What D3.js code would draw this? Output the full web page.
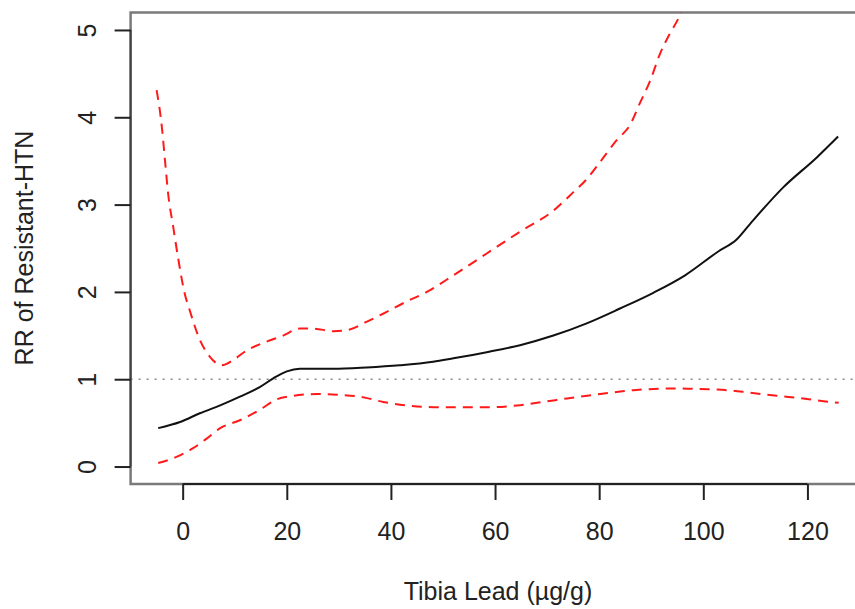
<!DOCTYPE html>
<html>
<head>
<meta charset="utf-8">
<script src="https://cdn.jsdelivr.net/npm/d3@7"></script>
<style>
  body { margin: 0; background: #fff; }
  text { font-family: "Liberation Sans", Arial, sans-serif; }
</style>
</head>
<body>
<div id="chart"></div>
<script>
// estimated RR curve (solid black)
const estX = [-4.7, -0.5, 3.3, 7.2, 11, 14.8, 17.4, 20, 22.5, 28.9, 35.3, 41.7, 48.1, 52, 58.4, 64.8, 71.2, 77.6, 84, 90.4, 96.5, 102.8, 106.4, 109, 115.4, 121.8, 125.9];
const estY = [0.44, 0.51, 0.61, 0.70, 0.80, 0.91, 1.01, 1.09, 1.12, 1.12, 1.135, 1.16, 1.20, 1.24, 1.31, 1.39, 1.50, 1.64, 1.81, 1.99, 2.19, 2.46, 2.60, 2.78, 3.20, 3.54, 3.78];

// upper confidence bound (red dashed)
const upX = [-5.0, -4.0, -3.4, -2.8, -1.8, -0.85, 0.4, 1.3, 3.3, 5.2, 7.5, 9.7, 12.3, 16.1, 19.3, 22.5, 25.1, 28.9, 32.1, 35.4, 38.5, 43, 46.9, 52, 58.4, 64.8, 71.2, 75, 77.6, 80.2, 83.4, 85.9, 87.8, 89.8, 91.7, 93.6, 95.2, 96.5];
const upY = [4.31, 3.89, 3.51, 3.13, 2.74, 2.38, 1.98, 1.80, 1.45, 1.26, 1.16, 1.22, 1.33, 1.43, 1.50, 1.58, 1.58, 1.55, 1.57, 1.66, 1.75, 1.89, 2.00, 2.19, 2.44, 2.69, 2.93, 3.14, 3.29, 3.49, 3.74, 3.91, 4.16, 4.42, 4.73, 4.96, 5.13, 5.3];

// lower confidence bound (red dashed)
const loX = [-4.7, -1.2, 2.0, 4.6, 7.2, 11, 14.8, 18.1, 21.2, 25.7, 30.2, 34.1, 38.5, 43, 48.1, 52.6, 59.7, 64.2, 69.3, 73.8, 80.2, 86.6, 94.9, 99.4, 104.5, 109, 114.1, 119.2, 124.3, 126];
const loY = [0.04, 0.11, 0.21, 0.32, 0.44, 0.53, 0.65, 0.77, 0.81, 0.83, 0.82, 0.80, 0.74, 0.70, 0.68, 0.68, 0.68, 0.70, 0.74, 0.78, 0.83, 0.875, 0.895, 0.887, 0.875, 0.845, 0.81, 0.78, 0.74, 0.73];

const xTicks = [0, 20, 40, 60, 80, 100, 120];
const yTicks = [0, 1, 2, 3, 4, 5];
const refLine = 1;

const width = 855, height = 609;
const svg = d3.select("#chart").append("svg")
    .attr("width", width)
    .attr("height", height);

const x = d3.scaleLinear().domain([-10, 131]).range([130.6, 864.7]);
const y = d3.scaleLinear().domain([-0.2, 5.2]).range([484, 12.5]);

svg.append("defs").append("clipPath").attr("id", "plot")
  .append("rect")
    .attr("x", x(-10)).attr("y", y(5.2))
    .attr("width", x(131) - x(-10)).attr("height", y(-0.2) - y(5.2));

// box
svg.append("rect")
    .attr("x", x(-10)).attr("y", y(5.2))
    .attr("width", x(131) - x(-10)).attr("height", y(-0.2) - y(5.2))
    .attr("fill", "none")
    .attr("stroke", "#7a7a7a")
    .attr("stroke-width", 2.5);

const plot = svg.append("g").attr("clip-path", "url(#plot)");

// reference line RR = 1
plot.append("line")
    .attr("x1", x(-10)).attr("x2", x(131))
    .attr("y1", y(refLine)).attr("y2", y(refLine))
    .attr("stroke", "#888")
    .attr("stroke-width", 1.6)
    .attr("stroke-dasharray", "2,6");

const line = d3.line()
    .x(d => x(d[0]))
    .y(d => y(d[1]))
    .curve(d3.curveMonotoneX);

plot.append("path")
    .attr("d", line(d3.zip(upX, upY)))
    .attr("fill", "none")
    .attr("stroke", "#ff1a1a")
    .attr("stroke-width", 2)
    .attr("stroke-dasharray", "10,7");

plot.append("path")
    .attr("d", line(d3.zip(loX, loY)))
    .attr("fill", "none")
    .attr("stroke", "#ff1a1a")
    .attr("stroke-width", 2)
    .attr("stroke-dasharray", "10,7");

plot.append("path")
    .attr("d", line(d3.zip(estX, estY)))
    .attr("fill", "none")
    .attr("stroke", "#111")
    .attr("stroke-width", 2);

// axes
const xAxis = svg.append("g")
    .attr("transform", `translate(0,${y(-0.2)})`)
    .call(d3.axisBottom(x).tickValues(xTicks).tickSize(16).tickSizeOuter(0).tickPadding(22));
xAxis.select(".domain").attr("d", `M${x(0)},0H${x(120)}`).attr("stroke", "#222").attr("stroke-width", 2);
xAxis.selectAll(".tick line").attr("stroke", "#222").attr("stroke-width", 2);
xAxis.selectAll(".tick text").attr("font-size", 25).attr("fill", "#222")
    .attr("font-family", "Liberation Sans, Arial, sans-serif");

const yAxis = svg.append("g")
    .attr("transform", `translate(${x(-10)},0)`)
    .call(d3.axisLeft(y).tickValues(yTicks).tickFormat(d3.format("d")).tickSize(16).tickSizeOuter(0));
yAxis.select(".domain").attr("d", `M0,${y(0)}V${y(5)}`).attr("stroke", "#444").attr("stroke-width", 2);
yAxis.selectAll(".tick line").attr("stroke", "#222").attr("stroke-width", 2);
yAxis.selectAll(".tick text")
    .attr("x", null).attr("dy", null)
    .attr("transform", "translate(-35,0) rotate(-90)")
    .attr("text-anchor", "middle")
    .attr("font-size", 25).attr("fill", "#222")
    .attr("font-family", "Liberation Sans, Arial, sans-serif");

// axis titles
svg.append("text")
    .attr("x", 498).attr("y", 600)
    .attr("text-anchor", "middle")
    .attr("font-size", 25).attr("fill", "#222")
    .text("Tibia Lead (µg/g)");

svg.append("text")
    .attr("transform", "translate(33,248) rotate(-90)")
    .attr("text-anchor", "middle")
    .attr("font-size", 25).attr("fill", "#222")
    .text("RR of Resistant-HTN");
</script>
</body>
</html>
